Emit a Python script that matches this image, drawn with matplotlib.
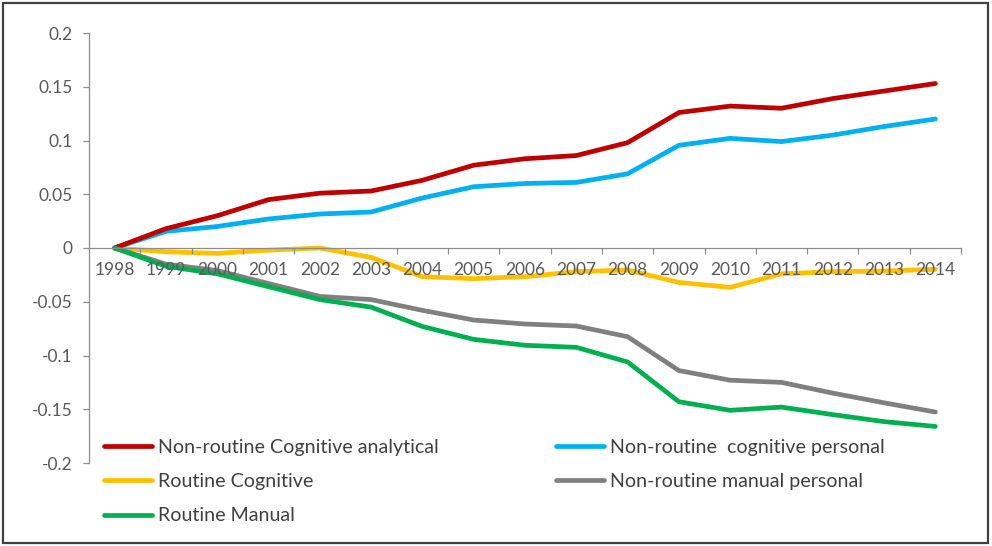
"""
Task-content change relative to 1998, by task type (1998-2014).
"""

import matplotlib
matplotlib.use("Agg")
import matplotlib.pyplot as plt
from matplotlib.patches import Rectangle
from matplotlib.ticker import FixedLocator, FuncFormatter

# ---------------------------------------------------------------------------
# Data
# ---------------------------------------------------------------------------

years = [str(y) for y in range(1998, 2015)]

nr_cog_analytical = [0.0, 0.018, 0.030, 0.045, 0.051, 0.053, 0.063, 0.077, 0.083,
                     0.086, 0.098, 0.126, 0.132, 0.130, 0.139, 0.146, 0.153]
nr_cog_personal   = [0.0, 0.0155, 0.020, 0.027, 0.0316, 0.0335, 0.0465, 0.057, 0.060,
                     0.061, 0.069, 0.0955, 0.102, 0.099, 0.105, 0.113, 0.120]
routine_cognitive = [0.0, -0.0035, -0.005, -0.002, 0.0, -0.0087, -0.0267, -0.0285, -0.0267,
                     -0.022, -0.0205, -0.032, -0.0366, -0.024, -0.022, -0.0214, -0.0198]
nr_manual_personal = [0.0, -0.015, -0.021, -0.033, -0.045, -0.048, -0.058, -0.067, -0.0707,
                      -0.0726, -0.0825, -0.114, -0.123, -0.125, -0.135, -0.144, -0.1526]
routine_manual    = [0.0, -0.017, -0.024, -0.036, -0.048, -0.055, -0.073, -0.085, -0.0905,
                     -0.0924, -0.106, -0.143, -0.151, -0.148, -0.155, -0.1615, -0.166]

y_ticks = [-0.2, -0.15, -0.1, -0.05, 0, 0.05, 0.1, 0.15, 0.2]

# ---------------------------------------------------------------------------
# Style
# ---------------------------------------------------------------------------

plt.rcParams["font.family"] = ["Lato", "DejaVu Sans"]
plt.rcParams["axes.unicode_minus"] = False

AXIS_GREY = "#8c8c8c"
TEXT_GREY = "#595959"

series = [
    (nr_cog_analytical,  "#C00000", "Non-routine Cognitive analytical"),
    (routine_cognitive,  "#FFC000", "Routine Cognitive"),
    (routine_manual,     "#00B050", "Routine Manual"),
    (nr_cog_personal,    "#00B0F0", "Non-routine  cognitive personal"),
    (nr_manual_personal, "#808080", "Non-routine manual personal"),
]
draw_order = [1, 3, 0, 4, 2]  # gray under green, etc.

fig = plt.figure(figsize=(9.92, 5.46), dpi=100)
ax = fig.add_axes([89 / 992, 1 - 463 / 546, (961 - 89) / 992, (463 - 33) / 546])

x = list(range(len(years)))
handles = [None] * len(series)
for z, idx in enumerate(draw_order):
    vals, color, label = series[idx]
    (ln,) = ax.plot(x, vals, color=color, linewidth=3.4, label=label,
                    solid_joinstyle="round", solid_capstyle="round", zorder=2 + z * 0.01)
    handles[idx] = ln

ax.set_xlim(-0.5, len(years) - 0.5)
ax.set_ylim(-0.2, 0.2)

# spines
for side in ("top", "right"):
    ax.spines[side].set_visible(False)
ax.spines["left"].set_color(AXIS_GREY)
ax.spines["bottom"].set_color(AXIS_GREY)
ax.spines["bottom"].set_position(("data", 0))
ax.spines["left"].set_linewidth(0.9)
ax.spines["bottom"].set_linewidth(0.9)
ax.set_axisbelow(False)

# x axis: labels at categories, tick marks between categories
ax.set_xticks(x)
ax.set_xticklabels(years)
ax.xaxis.set_minor_locator(FixedLocator([i + 0.5 for i in x[:-1]] + [len(x) - 0.5]))
ax.tick_params(axis="x", which="major", length=0, pad=10, labelsize=12.5, labelcolor=TEXT_GREY)
ax.tick_params(axis="x", which="minor", length=4, width=0.9, color=AXIS_GREY, direction="out")

# y axis
ax.set_yticks(y_ticks)
ax.yaxis.set_major_formatter(FuncFormatter(lambda v, _: f"{v:g}"))
ax.tick_params(axis="y", length=4, width=0.9, color=AXIS_GREY, pad=8,
               labelsize=12.5, labelcolor=TEXT_GREY)

fig.legend(
    handles, [s[2] for s in series],
    ncol=2, loc="upper left", bbox_to_anchor=(104 / 992, 1 - 439 / 546),
    frameon=False, fontsize=14.1, labelcolor="#404040",
    handlelength=2.45, handletextpad=0.3, labelspacing=0.88, columnspacing=6.0,
    borderaxespad=0, borderpad=0,
)

fig.patches.append(Rectangle((3 / 992, 3 / 546), 985 / 992, 540 / 546,
                             transform=fig.transFigure, fill=False,
                             edgecolor="#404040", linewidth=1.6))

fig.savefig("out.png", dpi=100)
